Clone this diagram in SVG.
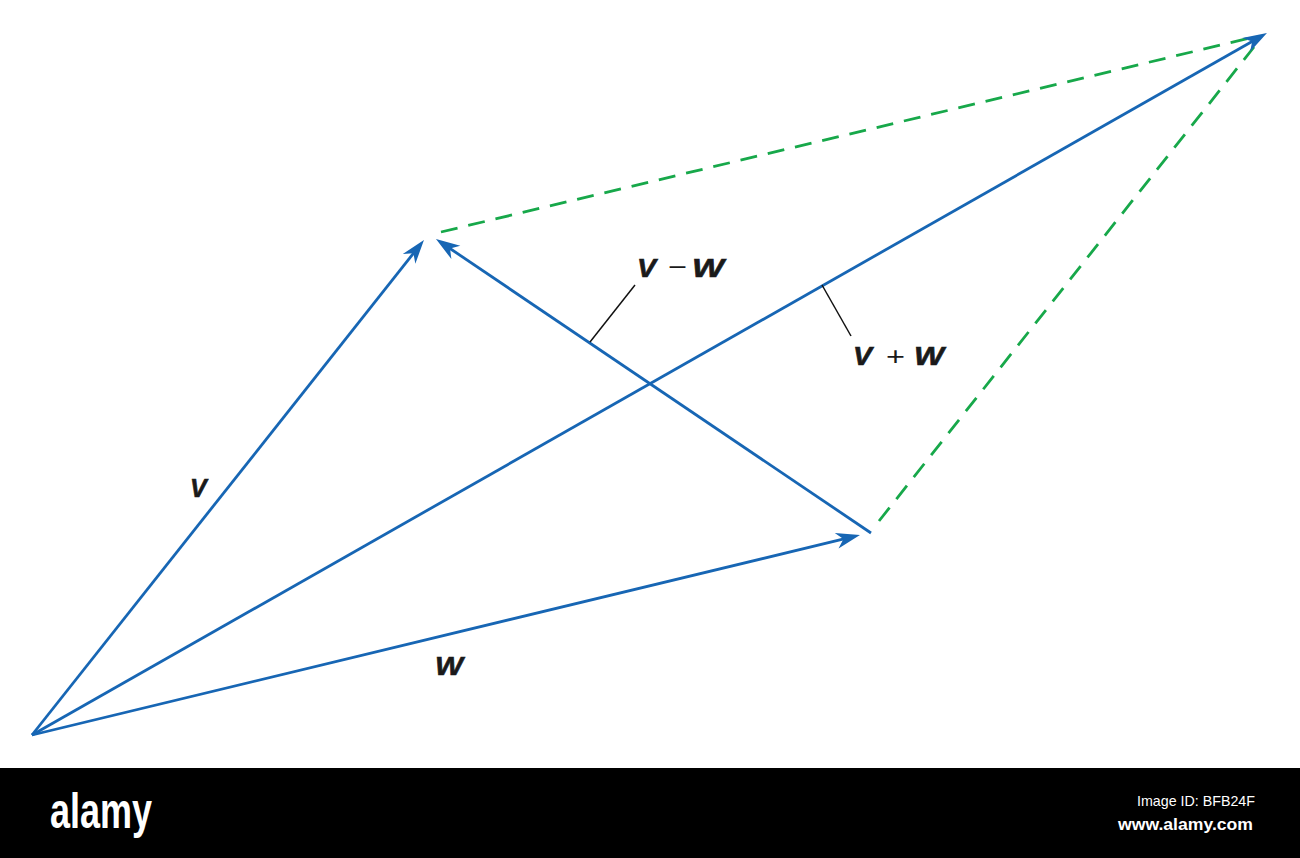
<svg xmlns="http://www.w3.org/2000/svg" width="1300" height="858" viewBox="0 0 1300 858">
<style>
.vec{stroke:#1766b4;stroke-width:2.8;fill:none;stroke-linecap:butt}
.dash{stroke:#17a84a;stroke-width:2.8;fill:none;stroke-dasharray:17 11}
.lead{stroke:#111;stroke-width:1.5;fill:none}
.lbl{font-family:"Liberation Sans",Arial,sans-serif;font-weight:bold;font-style:italic;font-size:25px;fill:#1a1a1a;stroke:#1a1a1a;stroke-width:0.6}
.op{font-family:"Liberation Sans",Arial,sans-serif;font-weight:normal;font-size:26px;fill:#1a1a1a}
.ft{font-family:"Liberation Sans",Arial,sans-serif;fill:#fff}
</style>
<defs>
<marker id="ah" viewBox="-26 -9 28 18" refX="-8" refY="0" markerWidth="28" markerHeight="18" markerUnits="userSpaceOnUse" orient="auto">
<path d="M0,0 L-24,-8 L-17,0 L-24,8 Z" fill="#1766b4"/>
</marker>
</defs>
<rect width="1300" height="858" fill="#fff"/>
<g id="connectors">
<line class="dash" x1="441" y1="232" x2="1250" y2="38"/>
<line class="dash" x1="879" y1="521" x2="1254" y2="47"/>
<line id="vec-v" class="vec" x1="32" y1="735" x2="419" y2="246.3" marker-end="url(#ah)"/>
<line id="vec-w" class="vec" x1="32" y1="735" x2="852.2" y2="536.9" marker-end="url(#ah)"/>
<line id="vec-vpw" class="vec" x1="32" y1="735" x2="1260" y2="37" marker-end="url(#ah)"/>
<line id="vec-vmw" class="vec" x1="871" y1="533" x2="442.6" y2="243.5" marker-end="url(#ah)"/>
<line class="lead" x1="590" y1="342" x2="635" y2="285"/>
<line class="lead" x1="822" y1="285" x2="851" y2="336"/>
</g>
<g id="label-v"><text class="lbl" x="190" y="497">V</text></g>
<g id="label-w"><text class="lbl" x="435" y="675" textLength="28" lengthAdjust="spacingAndGlyphs">W</text></g>
<g id="label-vmw">
<text class="lbl" x="637" y="277" textLength="19" lengthAdjust="spacingAndGlyphs">V</text>
<text class="op" x="668" y="276" textLength="19" lengthAdjust="spacingAndGlyphs">−</text>
<text class="lbl" x="692" y="277" textLength="32" lengthAdjust="spacingAndGlyphs">W</text>
</g>
<g id="label-vpw">
<text class="lbl" x="853" y="365" textLength="19" lengthAdjust="spacingAndGlyphs">V</text>
<text class="op" x="886" y="365" textLength="19" lengthAdjust="spacingAndGlyphs">+</text>
<text class="lbl" x="914" y="365" textLength="30" lengthAdjust="spacingAndGlyphs">W</text>
</g>
<g id="footer">
<rect x="0" y="768" width="1300" height="90" fill="#000"/>
<text class="ft" x="50" y="828" font-size="50" font-weight="bold" textLength="102" lengthAdjust="spacingAndGlyphs">alamy</text>
<text class="ft" x="1137" y="806" font-size="15" textLength="118" lengthAdjust="spacingAndGlyphs">Image ID: BFB24F</text>
<text class="ft" x="1118" y="830" font-size="17" font-weight="bold" textLength="135" lengthAdjust="spacingAndGlyphs">www.alamy.com</text>
</g>
</svg>
